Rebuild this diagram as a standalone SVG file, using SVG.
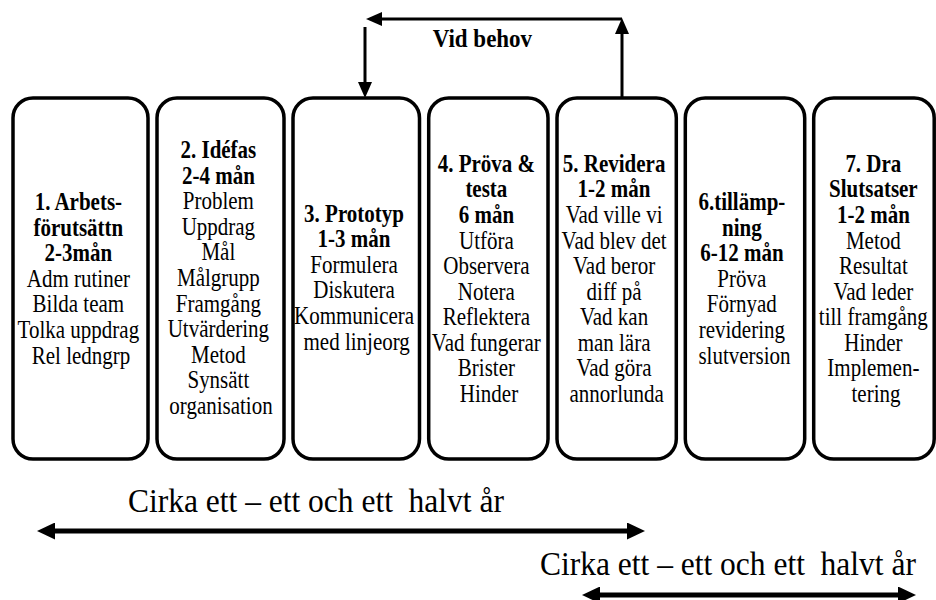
<svg xmlns="http://www.w3.org/2000/svg" width="936" height="600" viewBox="0 0 936 600">
<style>
.box{fill:#fff;stroke:#000;stroke-width:3.5}
.t{font-family:"Liberation Serif","Times New Roman",serif;font-size:21px;fill:#000;text-anchor:middle}
.b{font-weight:bold}
.con{fill:none;stroke:#000;stroke-width:3}
.big{fill:none;stroke:#000;stroke-width:5}
.lbl{font-family:"Liberation Serif","Times New Roman",serif;fill:#000;white-space:pre}
</style>
<defs>
<marker id="ah" viewBox="0 0 16 14" refX="8" refY="7" markerWidth="16" markerHeight="14" markerUnits="userSpaceOnUse" orient="auto">
<path d="M0,0 L16,7 L0,14 z" fill="#000"/>
</marker>
<marker id="ab" viewBox="0 0 18 17" refX="9" refY="8.5" markerWidth="18" markerHeight="17" markerUnits="userSpaceOnUse" orient="auto-start-reverse">
<path d="M0,0 L18,8.5 L0,17 z" fill="#000"/>
</marker>
</defs>
<rect width="936" height="600" fill="#fff"/>

<g id="n1">
<rect class="box" x="13" y="98" width="135" height="361" rx="20"/>
<text class="t" transform="scale(1,1.2)">
<tspan class="b" x="81" y="175">1. Arbets-</tspan>
<tspan class="b" x="81" dy="21.33">förutsättn</tspan>
<tspan class="b" x="81" dy="21.33">2-3mån</tspan>
<tspan x="81" dy="21.33">Adm rutiner</tspan>
<tspan x="81" dy="21.33">Bilda team</tspan>
<tspan x="81" dy="21.33">Tolka uppdrag</tspan>
<tspan x="81" dy="21.33">Rel ledngrp</tspan>
</text>
</g>

<g id="n2">
<rect class="box" x="157" y="98" width="127" height="361" rx="20"/>
<text class="t" transform="scale(1,1.2)">
<tspan class="b" x="221" y="131.67">2. Idéfas</tspan>
<tspan class="b" x="221" dy="21.33">2-4 mån</tspan>
<tspan x="221" dy="21.33">Problem</tspan>
<tspan x="221" dy="21.33">Uppdrag</tspan>
<tspan x="221" dy="21.33">Mål</tspan>
<tspan x="221" dy="21.33">Målgrupp</tspan>
<tspan x="221" dy="21.33">Framgång</tspan>
<tspan x="221" dy="21.33">Utvärdering</tspan>
<tspan x="221" dy="21.33">Metod</tspan>
<tspan x="221" dy="21.33">Synsätt</tspan>
<tspan x="221" dy="21.33">organisation</tspan>
</text>
</g>

<g id="n3">
<rect class="box" x="293" y="98" width="126.5" height="361" rx="20"/>
<text class="t" transform="scale(1,1.2)">
<tspan class="b" x="356.7" y="184.75">3. Prototyp</tspan>
<tspan class="b" x="356.7" dy="21.33">1-3 mån</tspan>
<tspan x="356.7" dy="21.33">Formulera</tspan>
<tspan x="356.7" dy="21.33">Diskutera</tspan>
<tspan x="356.7" dy="21.33">Kommunicera</tspan>
<tspan x="356.7" dy="21.33">med linjeorg</tspan>
</text>
</g>

<g id="n4">
<rect class="box" x="428.7" y="98" width="119.3" height="361" rx="20"/>
<text class="t" transform="scale(1,1.2)">
<tspan class="b" x="489" y="143.1">4. Pröva &amp;</tspan>
<tspan class="b" x="489" dy="21.33">testa</tspan>
<tspan class="b" x="489" dy="21.33">6 mån</tspan>
<tspan x="489" dy="21.33">Utföra</tspan>
<tspan x="489" dy="21.33">Observera</tspan>
<tspan x="489" dy="21.33">Notera</tspan>
<tspan x="489" dy="21.33">Reflektera</tspan>
<tspan x="489" dy="21.33">Vad fungerar</tspan>
<tspan x="489" dy="21.33">Brister</tspan>
<tspan x="489" dy="21.33">Hinder</tspan>
</text>
</g>

<g id="n5">
<rect class="box" x="557" y="98" width="119.3" height="361" rx="20"/>
<text class="t" transform="scale(1,1.2)">
<tspan class="b" x="616.7" y="143.1">5. Revidera</tspan>
<tspan class="b" x="616.7" dy="21.33">1-2 mån</tspan>
<tspan x="616.7" dy="21.33">Vad ville vi</tspan>
<tspan x="616.7" dy="21.33">Vad blev det</tspan>
<tspan x="616.7" dy="21.33">Vad beror</tspan>
<tspan x="616.7" dy="21.33">diff på</tspan>
<tspan x="616.7" dy="21.33">Vad kan</tspan>
<tspan x="616.7" dy="21.33">man lära</tspan>
<tspan x="616.7" dy="21.33">Vad göra</tspan>
<tspan x="616.7" dy="21.33">annorlunda</tspan>
</text>
</g>

<g id="n6">
<rect class="box" x="685.3" y="98" width="119.4" height="361" rx="20"/>
<text class="t" transform="scale(1,1.2)">
<tspan class="b" x="744.5" y="175">6.tillämp-</tspan>
<tspan class="b" x="744.5" dy="21.33">ning</tspan>
<tspan class="b" x="744.5" dy="21.33">6-12 mån</tspan>
<tspan x="744.5" dy="21.33">Pröva</tspan>
<tspan x="744.5" dy="21.33">Förnyad</tspan>
<tspan x="744.5" dy="21.33">revidering</tspan>
<tspan x="744.5" dy="21.33">slutversion</tspan>
</text>
</g>

<g id="n7">
<rect class="box" x="813.7" y="98" width="120.5" height="361" rx="20"/>
<text class="t" transform="scale(1,1.2)">
<tspan class="b" x="876" y="143.1">7. Dra</tspan>
<tspan class="b" x="876" dy="21.33">Slutsatser</tspan>
<tspan class="b" x="876" dy="21.33">1-2 mån</tspan>
<tspan x="876" dy="21.33">Metod</tspan>
<tspan x="876" dy="21.33">Resultat</tspan>
<tspan x="876" dy="21.33">Vad leder</tspan>
<tspan x="876" dy="21.33">till framgång</tspan>
<tspan x="876" dy="21.33">Hinder</tspan>
<tspan x="876" dy="21.33">Implemen-</tspan>
<tspan x="876" dy="21.33">tering</tspan>
</text>
</g>

<g id="connectors">
<path class="con" d="M622,98 V26" marker-end="url(#ah)"/>
<path class="con" d="M622,19 H374" marker-end="url(#ah)"/>
<path class="con" d="M365,27 V90" marker-end="url(#ah)"/>
<path class="big" d="M46,531 H636" marker-start="url(#ab)" marker-end="url(#ab)"/>
<path class="big" d="M591,595 H907" marker-start="url(#ab)" marker-end="url(#ab)"/>
</g>

<g id="labels">
<text class="lbl" font-weight="bold" font-size="23" text-anchor="middle" transform="scale(1,1.1)" x="482.4" y="42.45">Vid behov</text>
<text class="lbl" font-size="31.5" xml:space="preserve" transform="scale(1,1.08)" x="128" y="473.8">Cirka ett – ett och ett  halvt år</text>
<text class="lbl" font-size="31.5" xml:space="preserve" transform="scale(1,1.08)" x="540" y="532.4">Cirka ett – ett och ett  halvt år</text>
</g>
</svg>
